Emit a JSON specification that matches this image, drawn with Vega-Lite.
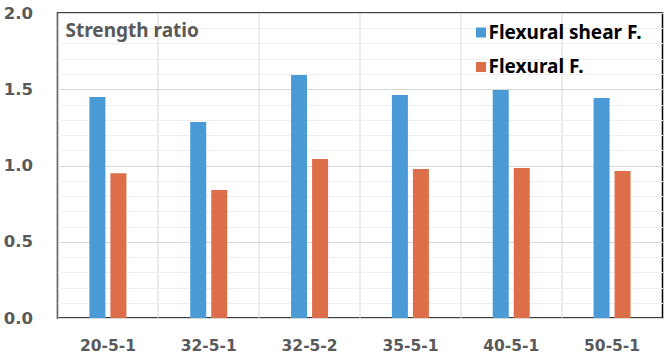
{
  "$schema": "https://vega.github.io/schema/vega-lite/v6.json",
  "width": 605,
  "height": 305,
  "autosize": "none",
  "padding": {"left": 57.5, "top": 13, "right": 8.5, "bottom": 37},
  "background": "white",
  "config": {
    "font": "Noto Sans",
    "view": {"stroke": "#000000", "strokeWidth": 1.5}
  },
  "data": {
    "values": [
      {"specimen": "20-5-1", "series": "Flexural shear F.", "ratio": 1.45},
      {"specimen": "20-5-1", "series": "Flexural F.", "ratio": 0.95},
      {"specimen": "32-5-1", "series": "Flexural shear F.", "ratio": 1.285},
      {"specimen": "32-5-1", "series": "Flexural F.", "ratio": 0.84},
      {"specimen": "32-5-2", "series": "Flexural shear F.", "ratio": 1.593},
      {"specimen": "32-5-2", "series": "Flexural F.", "ratio": 1.043},
      {"specimen": "35-5-1", "series": "Flexural shear F.", "ratio": 1.462},
      {"specimen": "35-5-1", "series": "Flexural F.", "ratio": 0.977},
      {"specimen": "40-5-1", "series": "Flexural shear F.", "ratio": 1.495},
      {"specimen": "40-5-1", "series": "Flexural F.", "ratio": 0.984},
      {"specimen": "50-5-1", "series": "Flexural shear F.", "ratio": 1.443},
      {"specimen": "50-5-1", "series": "Flexural F.", "ratio": 0.964}
    ]
  },
  "mark": {"type": "bar"},
  "encoding": {
    "x": {
      "field": "specimen",
      "type": "nominal",
      "sort": null,
      "scale": {"paddingInner": 0, "paddingOuter": 0},
      "axis": {
        "title": null,
        "labelAngle": 0,
        "labelFont": "DejaVu Sans",
        "labelFontSize": 15.5,
        "labelFontWeight": "bold",
        "labelColor": "#595959",
        "labelPadding": 20,
        "ticks": false,
        "domain": false,
        "grid": true,
        "gridColor": "#d9d9d9",
        "gridWidth": 1,
        "bandPosition": 0
      }
    },
    "xOffset": {
      "field": "series",
      "type": "nominal",
      "sort": ["Flexural shear F.", "Flexural F."],
      "scale": {"paddingInner": 0.238, "paddingOuter": 0, "range": [31.9, 68.9]}
    },
    "y": {
      "field": "ratio",
      "type": "quantitative",
      "scale": {"domain": [0, 2], "nice": false},
      "axis": {
        "title": "Strength ratio",
        "titleAngle": 0,
        "titleX": 7.5,
        "titleY": 23.7,
        "titleAlign": "left",
        "titleBaseline": "alphabetic",
        "titleFont": "Noto Sans",
        "titleFontSize": 19,
        "titleFontWeight": "bold",
        "titleColor": "#595959",
        "values": [0, 0.1, 0.2, 0.3, 0.4, 0.5, 0.6, 0.7, 0.8, 0.9, 1, 1.1, 1.2, 1.3, 1.4, 1.5, 1.6, 1.7, 1.8, 1.9, 2],
        "labelExpr": "abs(datum.value*2 - round(datum.value*2)) < 0.001 ? format(datum.value, '.1f') : ''",
        "labelFont": "DejaVu Sans",
        "labelFontSize": 16.5,
        "labelFontWeight": "bold",
        "labelColor": "#595959",
        "labelPadding": 25,
        "ticks": false,
        "domain": false,
        "grid": true,
        "gridColor": {
          "condition": {"test": "abs(datum.value*2 - round(datum.value*2)) < 0.001", "value": "#d9d9d9"},
          "value": "#efefef"
        },
        "gridWidth": 1
      }
    },
    "color": {
      "field": "series",
      "type": "nominal",
      "sort": ["Flexural shear F.", "Flexural F."],
      "scale": {"domain": ["Flexural shear F.", "Flexural F."], "range": ["#4a9bd5", "#dc6e4a"]},
      "legend": {
        "title": null,
        "orient": "none",
        "legendX": 414,
        "legendY": 10,
        "symbolType": "square",
        "symbolSize": 100,
        "symbolOpacity": 1,
        "labelFont": "Noto Sans",
        "labelFontSize": 19,
        "labelFontWeight": "bold",
        "labelColor": "#000000",
        "labelOffset": -2,
        "rowPadding": 14.5,
        "labelLimit": 300
      }
    }
  }
}
